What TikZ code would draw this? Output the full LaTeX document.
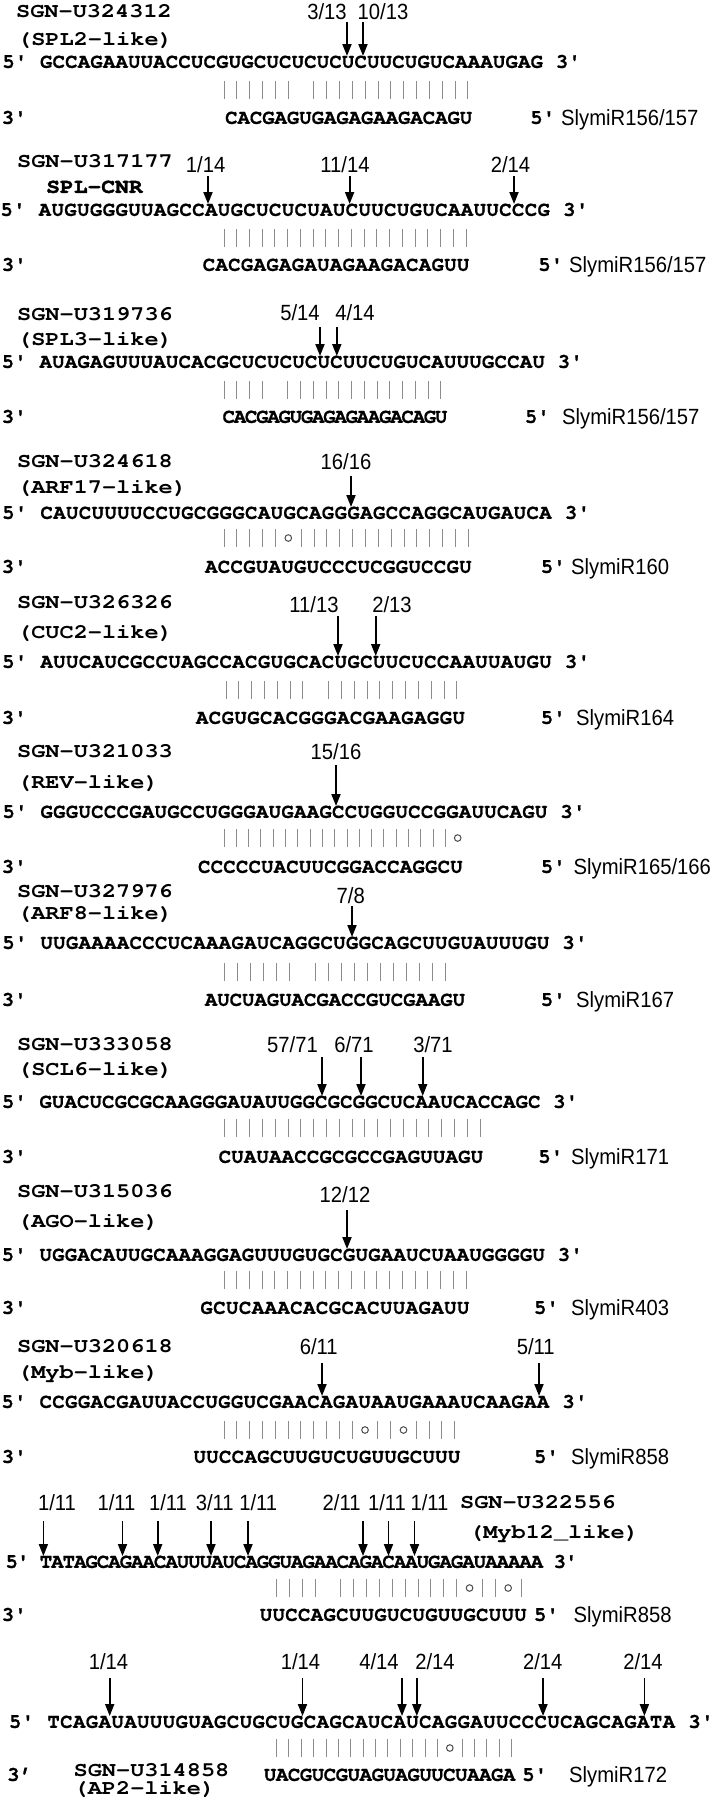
\documentclass[tikz,border=0pt]{standalone}
\usepackage{fontspec}
\usetikzlibrary{arrows.meta}
\newfontfamily\seqfont{texgyrecursor-bold.otf}[FakeBold=0.8]
\newfontfamily\lblfont{texgyrecursor-bold.otf}[FakeStretch=1.15]
\newfontfamily\lblbfont{texgyrecursor-bold.otf}[FakeStretch=1.12,FakeBold=2]
\newfontfamily\numfont{Liberation Sans}[FakeStretch=0.92]
\newcommand\q{\textquotesingle}

\ExplSyntaxOn
\fp_new:N \l__bp_x_fp
\tl_new:N \l__bp_xs_tl
\NewDocumentCommand \pitched { m m }
  {
    \tl_map_inline:nn {#2}
      {
        \str_if_eq:nnTF {##1} {.}
          { \hspace*{#1} }
          { \makebox[#1][c]{##1} }
      }
  }
\NewDocumentCommand \pairs { m m m m }
  {
    \fp_set:Nn \l__bp_x_fp {#1}
    \tl_map_inline:nn {#4}
      {
        \tl_set:Nx \l__bp_xs_tl { \fp_to_decimal:N \l__bp_x_fp }
        \str_case:nn {##1}
          {
            {|} { \draw[pairbar] (\l__bp_xs_tl, #3-9) -- (\l__bp_xs_tl, #3+9); }
            {o} { \draw[pairwob] (\l__bp_xs_tl, #3) circle[radius=3.3pt]; }
          }
        \fp_add:Nn \l__bp_x_fp {#2}
      }
  }
\ExplSyntaxOff

\newcommand\seqrow[5]{\node[seqtxt] (#1) at (#2,#4) {\pitched{#3pt}{#5}};}
\newcommand\cutmark[4]{\coordinate (#1s) at (#2,#3); \coordinate (#1e) at (#2,#4); \draw[cut] (#1s) -- (#1e);}

\tikzset{
  seqtxt/.style={font=\seqfont\fontsize{20.5}{24}\selectfont, inner sep=0pt, anchor=west, text height=11.7pt, text depth=0pt},
  lbl/.style={font=\lblfont\fontsize{20.5}{24}\selectfont, inner sep=0pt, anchor=west, text height=11.7pt, text depth=0pt},
  lblb/.style={lbl, font=\lblbfont\fontsize{20.5}{24}\selectfont},
  frac/.style={font=\numfont\fontsize{22}{26}\selectfont, inner sep=0pt, anchor=center, text height=15.8pt, text depth=0pt},
  mirname/.style={frac, anchor=west},
  cut/.style={line width=1.8pt, -{Triangle[length=12pt,width=9pt]}},
  pairbar/.style={draw=black!45, line width=1pt},
  pairwob/.style={draw=black!70, line width=1pt},
}

\begin{document}
\begin{tikzpicture}[x=1pt,y=-1pt]
\fill[white] (0,0) rectangle (720,1800);
\useasboundingbox (0,0) rectangle (720,1800);

% ---- Block 1
\node[lbl] (g1) at (16,12) {SGN-U324312};
\node[lbl] (h1) at (17,40) {(SPL2-like)};
\node[frac] (f1a) at (327,12) {3/13};
\node[frac] (f1b) at (383,12) {10/13};
\cutmark{c1a}{347}{22}{56}
\cutmark{c1b}{363}{22}{56}
\seqrow{t1}{2}{12.58}{62}{5\q.GCCAGAAUUACCUCGUGCUCUCUCUCUUCUGUCAAAUGAG.3\q}
\pairs{224}{12.84}{90}{||||||.|||||||||||||}
\seqrow{l1}{1.5}{12.5}{118}{3\q}
\seqrow{r1}{225}{12.35}{118}{CACGAGUGAGAGAAGACAGU}
\seqrow{e1}{530}{12.5}{118}{5\q}
\node[mirname] (n1) at (561,118) {SlymiR156/157};

% ---- Block 2
\node[lbl] (g2) at (17,162) {SGN-U317177};
\node[lblb] (h2) at (46,187) {SPL-CNR};
\node[frac] (f2a) at (205.6,165) {1/14};
\node[frac] (f2b) at (345,165) {11/14};
\node[frac] (f2c) at (510.5,165) {2/14};
\cutmark{c2a}{208}{176}{204}
\cutmark{c2b}{349.6}{176}{204}
\cutmark{c2c}{514}{176}{204}
\seqrow{t2}{0}{12.79}{210}{5\q.AUGUGGGUUAGCCAUGCUCUCUAUCUUCUGUCAAUUCCCG.3\q}
\pairs{224}{12.74}{238}{||||||||||||||||||||}
\seqrow{l2}{1.5}{12.5}{265}{3\q}
\seqrow{r2}{202.4}{12.71}{265}{CACGAGAGAUAGAAGACAGUU}
\seqrow{e2}{538}{12.5}{265}{5\q}
\node[mirname] (n2) at (569,265) {SlymiR156/157};

% ---- Block 3
\node[lbl] (g3) at (17,315) {SGN-U319736};
\node[lbl] (h3) at (17,340) {(SPL3-like)};
\node[frac] (f3a) at (300,313) {5/14};
\node[frac] (f3b) at (355,313) {4/14};
\cutmark{c3a}{320}{327}{356}
\cutmark{c3b}{336.8}{327}{356}
\seqrow{t3}{1.3}{12.64}{362}{5\q.AUAGAGUUUAUCACGCUCUCUCUCUUCUGUCAUUUGCCAU.3\q}
\pairs{224}{12.76}{390}{||||.|||||||||||||}
\seqrow{l3}{1.5}{12.5}{417}{3\q}
\seqrow{r3}{223}{11.18}{417}{CACGAGUGAGAGAAGACAGU}
\seqrow{e3}{524.6}{12.5}{417}{5\q}
\node[mirname] (n3) at (562,417) {SlymiR156/157};

% ---- Block 4
\node[lbl] (g4) at (17,462) {SGN-U324618};
\node[lbl] (h4) at (17,488) {(ARF17-like)};
\node[frac] (f4a) at (346,462) {16/16};
\cutmark{c4a}{351}{476}{507}
\seqrow{t4}{1.7}{12.79}{513}{5\q.CAUCUUUUCCUGCGGGCAUGCAGGGAGCCAGGCAUGAUCA.3\q}
\pairs{224}{12.86}{538}{|||||o||||||||||||||}
\seqrow{l4}{1.5}{12.5}{567}{3\q}
\seqrow{r4}{204.7}{12.71}{567}{ACCGUAUGUCCCUCGGUCCGU}
\seqrow{e4}{540.5}{12.5}{567}{5\q}
\node[mirname] (n4) at (571,567) {SlymiR160};

% ---- Block 5
\node[lbl] (g5) at (17,603) {SGN-U326326};
\node[lbl] (h5) at (17,633) {(CUC2-like)};
\node[frac] (f5a) at (314,605) {11/13};
\node[frac] (f5b) at (392,605) {2/13};
\cutmark{c5a}{338}{616}{656}
\cutmark{c5b}{375.7}{616}{656}
\seqrow{t5}{1.7}{12.79}{662}{5\q.AUUCAUCGCCUAGCCACGUGCACUGCUUCUCCAAUUAUGU.3\q}
\pairs{226}{12.83}{690}{|||||||.|||||||||||}
\seqrow{l5}{1.5}{12.5}{718}{3\q}
\seqrow{r5}{195.5}{12.83}{718}{ACGUGCACGGGACGAAGAGGU}
\seqrow{e5}{540.5}{12.5}{718}{5\q}
\node[mirname] (n5) at (576,718) {SlymiR164};

% ---- Block 6
\node[lbl] (g6) at (17,752) {SGN-U321033};
\node[lbl] (h6) at (17,783) {(REV-like)};
\node[frac] (f6a) at (336,752) {15/16};
\cutmark{c6a}{336}{765}{806}
\seqrow{t6}{2.1}{12.68}{812}{5\q.GGGUCCCGAUGCCUGGGAUGAAGCCUGGUCCGGAUUCAGU.3\q}
\pairs{224}{12.3}{838}{|||||||||||||||||||o}
\seqrow{l6}{1.5}{12.5}{867}{3\q}
\seqrow{r6}{197.8}{12.61}{867}{CCCCCUACUUCGGACCAGGCU}
\seqrow{e6}{540.5}{12.5}{867}{5\q}
\node[mirname] (n6) at (573.5,867) {SlymiR165/166};

% ---- Block 7
\node[lbl] (g7) at (17,892) {SGN-U327976};
\node[lbl] (h7) at (17,914) {(ARF8-like)};
\node[frac] (f7a) at (350.7,896) {7/8};
\cutmark{c7a}{352}{906}{937}
\seqrow{t7}{1.9}{12.73}{943}{5\q.UUGAAAACCCUCAAAGAUCAGGCUGGCAGCUUGUAUUUGU.3\q}
\pairs{224}{13.0}{972}{||||||.|||||||||||}
\seqrow{l7}{1.5}{12.5}{1000}{3\q}
\seqrow{r7}{204.7}{12.39}{1000}{AUCUAGUACGACCGUCGAAGU}
\seqrow{e7}{540.5}{12.5}{1000}{5\q}
\node[mirname] (n7) at (576,1000) {SlymiR167};

% ---- Block 8
\node[lbl] (g8) at (17,1045) {SGN-U333058};
\node[lbl] (h8) at (17,1070) {(SCL6-like)};
\node[frac] (f8a) at (292.5,1045) {57/71};
\node[frac] (f8b) at (354,1045) {6/71};
\node[frac] (f8c) at (433,1045) {3/71};
\cutmark{c8a}{322}{1057}{1096}
\cutmark{c8b}{361}{1057}{1096}
\cutmark{c8c}{422.7}{1057}{1096}
\seqrow{t8}{1.6}{12.53}{1102}{5\q.GUACUCGCGCAAGGGAUAUUGGCGCGGCUCAAUCACCAGC.3\q}
\pairs{224}{12.8}{1128}{|||||||||||||||||||||}
\seqrow{l8}{1.5}{12.5}{1157}{3\q}
\seqrow{r8}{218.4}{12.6}{1157}{CUAUAACCGCGCCGAGUUAGU}
\seqrow{e8}{538}{12.5}{1157}{5\q}
\node[mirname] (n8) at (571,1157) {SlymiR171};

% ---- Block 9
\node[lbl] (g9) at (17,1192) {SGN-U315036};
\node[lbl] (h9) at (17,1222) {(AGO-like)};
\node[frac] (f9a) at (345,1195) {12/12};
\cutmark{c9a}{347}{1210}{1249}
\seqrow{t9}{1.3}{12.64}{1255}{5\q.UGGACAUUGCAAAGGAGUUUGUGCGUGAAUCUAAUGGGGU.3\q}
\pairs{224}{12.74}{1280}{||||||||||||||||||||}
\seqrow{l9}{1.5}{12.5}{1308}{3\q}
\seqrow{r9}{200}{12.83}{1308}{GCUCAAACACGCACUUAGAUU}
\seqrow{e9}{533.7}{12.5}{1308}{5\q}
\node[mirname] (n9) at (571,1308) {SlymiR403};

% ---- Block 10
\node[lbl] (g10) at (17,1347) {SGN-U320618};
\node[lbl] (h10) at (17,1373) {(Myb-like)};
\node[frac] (f10a) at (318.8,1347) {6/11};
\node[frac] (f10b) at (535.8,1347) {5/11};
\cutmark{c10a}{322}{1363}{1396}
\cutmark{c10b}{539}{1363}{1396}
\seqrow{t10}{1}{12.75}{1402}{5\q.CCGGACGAUUACCUGGUCGAACAGAUAAUGAAAUCAAGAA.3\q}
\pairs{224}{12.82}{1430}{|||||||||||o||o||||}
\seqrow{l10}{1.5}{12.5}{1457}{3\q}
\seqrow{r10}{193.2}{12.72}{1457}{UUCCAGCUUGUCUGUUGCUUU}
\seqrow{e10}{533.7}{12.5}{1457}{5\q}
\node[mirname] (n10) at (571,1457) {SlymiR858};

% ---- Block 11
\node[frac] (f11a) at (57,1503) {1/11};
\node[frac] (f11b) at (116.5,1503) {1/11};
\node[frac] (f11c) at (168,1503) {1/11};
\node[frac] (f11d) at (214.8,1503) {3/11};
\node[frac] (f11e) at (258.2,1503) {1/11};
\node[frac] (f11f) at (341.6,1503) {2/11};
\node[frac] (f11g) at (387,1503) {1/11};
\node[frac] (f11h) at (429.5,1503) {1/11};
\node[lbl] (g11) at (460,1503) {SGN-U322556};
\node[lbl] (h11) at (469,1533) {(Myb12\_like)};
\cutmark{c11a}{43.4}{1521}{1556}
\cutmark{c11b}{122.5}{1521}{1556}
\cutmark{c11c}{157.7}{1521}{1556}
\cutmark{c11d}{211}{1521}{1556}
\cutmark{c11e}{248}{1521}{1556}
\cutmark{c11f}{363}{1521}{1556}
\cutmark{c11g}{388.5}{1521}{1556}
\cutmark{c11h}{414.5}{1521}{1556}
\seqrow{t11}{5.8}{11.42}{1562}{5\q.TATAGCAGAACAUUUAUCAGGUAGAACAGACAAUGAGAUAAAAA.3\q}
\pairs{276.5}{12.87}{1588}{||||.||||||||||o||o|}
\seqrow{l11}{1.5}{12.5}{1615}{3\q}
\seqrow{r11}{259.5}{12.72}{1615}{UUCCAGCUUGUCUGUUGCUUU}
\seqrow{e11}{533.7}{12.5}{1615}{5\q}
\node[mirname] (n11) at (573.5,1615) {SlymiR858};

% ---- Block 12
\node[frac] (f12a) at (108.5,1662) {1/14};
\node[frac] (f12b) at (300.5,1662) {1/14};
\node[frac] (f12c) at (379,1662) {4/14};
\node[frac] (f12d) at (435,1662) {2/14};
\node[frac] (f12e) at (542.7,1662) {2/14};
\node[frac] (f12f) at (643,1662) {2/14};
\cutmark{c12a}{109.7}{1678}{1716}
\cutmark{c12b}{302.5}{1678}{1716}
\cutmark{c12c}{402}{1678}{1716}
\cutmark{c12d}{416.8}{1678}{1716}
\cutmark{c12e}{543}{1678}{1716}
\cutmark{c12f}{644.4}{1678}{1716}
\seqrow{t12}{8.5}{12.82}{1722}{5\q.TCAGAUAUUUGUAGCUGCUGCAGCAUCAUCAGGAUUCCCUCAGCAGATA.3\q}
\pairs{276.5}{12.38}{1748}{||||||||||||||o|||||}
\seqrow{l12}{6.9}{12.5}{1775}{3\textquoteright}
\node[lbl] (g12) at (73.5,1771) {SGN-U314858};
\node[lbl] (h12) at (73.5,1789) {(AP2-like)};
\seqrow{r12}{264}{11.95}{1775}{UACGUCGUAGUAGUUCUAAGA}
\seqrow{e12}{522}{12.5}{1775}{5\q}
\node[mirname] (n12) at (569,1775) {SlymiR172};
\end{tikzpicture}
\end{document}
